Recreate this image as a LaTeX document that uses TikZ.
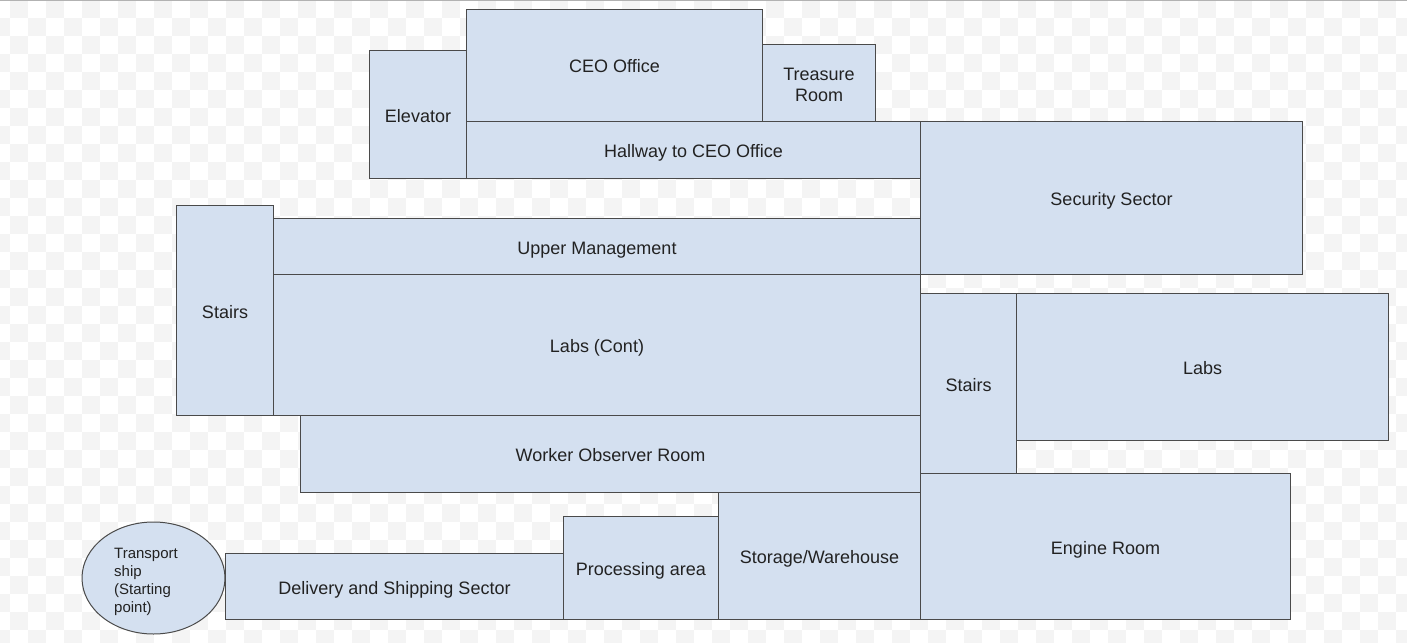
\documentclass[tikz,border=0pt]{standalone}
\usepackage{fontspec}
\setmainfont{Liberation Sans}
\usetikzlibrary{shapes.geometric}
\definecolor{roomblue}{HTML}{D4E0F0}
\definecolor{wallgray}{HTML}{4A4A4A}
\definecolor{checkgray}{HTML}{F4F4F4}
\definecolor{labelblack}{HTML}{222222}
\tikzset{
	room/.style={draw=wallgray,fill=roomblue,line width=1pt,anchor=north west,
		inner sep=0pt,text height=15pt,text depth=0pt,text=labelblack,align=center,
		font=\fontsize{18}{21}\selectfont},
	shipbox/.style={ellipse,draw=wallgray,fill=roomblue,line width=1pt,inner sep=0pt}
}
\begin{document}
\begin{tikzpicture}[x=1pt,y=-1pt]
	\useasboundingbox (0,0) rectangle (1407,642);
	\begin{scope}
		\clip (0,0) rectangle (1407,642);
		\fill[white] (0,0) rectangle (1407,642);
		\foreach \c in {0,...,79}{
			\foreach \r in {0,...,35}{
				\pgfmathtruncatemacro\parity{mod(\c+\r,2)}
				\ifnum\parity=1 \fill[checkgray] (-8+18*\c,18*\r) rectangle ++(18,18);\fi
			}
		}
		\draw[gray!60,line width=1.5pt] (0,0.5) -- (1407,0.5);
	\end{scope}
	% top floor
	\node[room,minimum width=97,minimum height=128] (elevator) at (369,50) {Elevator};
	\node[room,minimum width=296,minimum height=112] (ceo) at (466,9) {CEO Office};
	\node[room,minimum width=113,minimum height=77,text height=36pt] (treasure) at (762,44) {Treasure\\Room};
	\node[room,minimum width=454,minimum height=57] (hallway) at (466,121) {Hallway to CEO Office};
	\node[room,minimum width=382,minimum height=153] (security) at (920,121) {Security Sector};
	% middle
	\node[room,minimum width=97,minimum height=210] (stairsL) at (176,205) {Stairs};
	\node[room,minimum width=647,minimum height=56] (uppermgmt) at (273,218) {Upper Management};
	\node[room,minimum width=647,minimum height=141] (labscont) at (273,274) {Labs (Cont)};
	\node[room,minimum width=96,minimum height=180] (stairsR) at (920,293) {Stairs};
	\node[room,minimum width=372,minimum height=147] (labs) at (1016,293) {Labs};
	\node[room,minimum width=620,minimum height=77] (observer) at (300,415) {Worker Observer Room};
	% bottom
	\node[room,minimum width=370,minimum height=146] (engine) at (920,473) {Engine Room};
	\node[room,minimum width=202,minimum height=127] (storage) at (718,492) {Storage/Warehouse};
	\node[room,minimum width=155,minimum height=103] (processing) at (563,516) {Processing area};
	\node[room,minimum width=338,minimum height=66] (delivery) at (225,553) {Delivery and Shipping Sector};
	\node[shipbox,minimum width=143,minimum height=112] (ship) at (153.5,578) {};
	\node[align=left,inner sep=0pt,text=labelblack,font=\fontsize{15}{18}\selectfont] (shiplabel) at (146,582) {Transport\\ship\\(Starting\\point)};
\end{tikzpicture}
\end{document}
